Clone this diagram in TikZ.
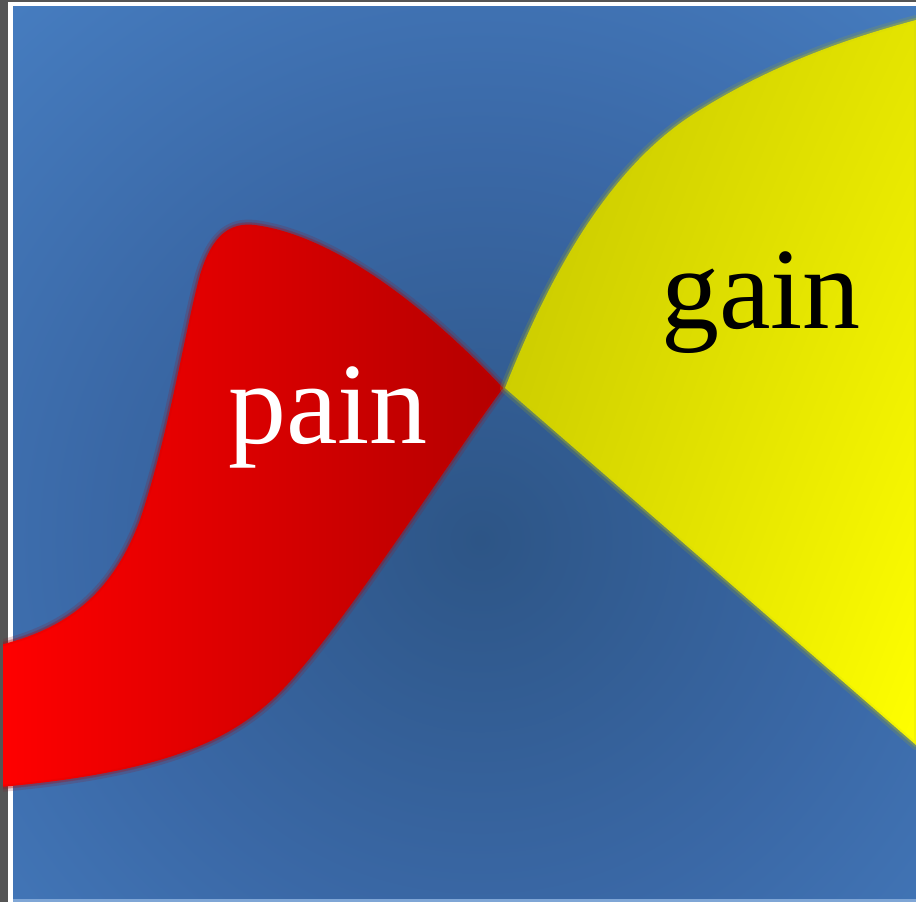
\documentclass[tikz,border=0pt]{standalone}
\usepackage{fontspec}
\setmainfont{Liberation Serif}
\usetikzlibrary{shadings}
\definecolor{bgin}{HTML}{2D5586}
\definecolor{bgmid}{HTML}{3A68A6}
\definecolor{bgout}{HTML}{4880C4}
\definecolor{redL}{HTML}{FF0000}
\definecolor{redR}{HTML}{B40000}
\definecolor{yelUL}{HTML}{C4C400}
\definecolor{yelUR}{HTML}{E4E400}
\definecolor{yelLL}{HTML}{D8D800}
\definecolor{yelLR}{HTML}{FFFF00}
\definecolor{stripgrey}{HTML}{555555}
\pgfdeclareradialshading{bgshade}{\pgfpoint{0bp}{0bp}}{color(0bp)=(bgin); color(16bp)=(bgmid); color(32bp)=(bgout); color(50bp)=(bgout)}
\tikzset{
  lbl/.style={anchor=base, inner sep=0pt, font=\fontsize{116}{120}\selectfont},
  halo/.style={line width=#1, line join=round, opacity=0.2},
}
\newcommand{\redpath}{(0,645) .. controls (60,630) and (110,600) .. (140,520)
  .. controls (170,430) and (185,330) .. (200,275)
  .. controls (212,235) and (230,222) .. (255,225)
  .. controls (330,235) and (420,300) .. (503,388)
  .. controls (450,460) and (360,600) .. (300,670)
  .. controls (250,730) and (190,770) .. (0,787) -- cycle}
\newcommand{\yelpath}{(505,388) .. controls (540,300) and (600,170) .. (700,110)
  .. controls (780,60) and (860,35) .. (916,20) -- (916,745) -- cycle}
\begin{document}
\begin{tikzpicture}[x=1pt,y=-1pt]
\useasboundingbox (0,0) rectangle (916,902);
% frame strips
\fill[white] (0,0) rectangle (916,902);
\fill[stripgrey] (0,0) rectangle (8,902);
\fill[stripgrey] (0,0) rectangle (916,1.5);
% background radial gradient
\begin{scope}
  \clip (13,6) rectangle (916,899);
  \shade[shading=bgshade] (-120,-60) rectangle (1080,1140);
\end{scope}
\fill[bgout!70!white] (13,899) rectangle (916,902);
% red shape with soft edge
\begin{scope}
  \clip (3,0) rectangle (916,902);
  \draw[redR!70!bgin, halo=10pt] \redpath;
  \draw[redR!70!bgin, halo=5pt] \redpath;
  \shade[left color=redL, right color=redR] \redpath;
  \draw[redL!80!black, halo=4pt] \redpath;
\end{scope}
% yellow shape with soft edge
\draw[yelUL!75!bgin, halo=10pt] \yelpath;
\draw[yelUL!75!bgin, halo=5pt] \yelpath;
\shade[upper left=yelUL, upper right=yelUR, lower left=yelLL, lower right=yelLR] \yelpath;
\draw[yelUR!85!bgin, halo=4pt] \yelpath;
% labels
\node[lbl, text=white] (pain) at (328,443) {pain};
\node[lbl, text=black] (gain) at (761,328) {gain};
\end{tikzpicture}
\end{document}
